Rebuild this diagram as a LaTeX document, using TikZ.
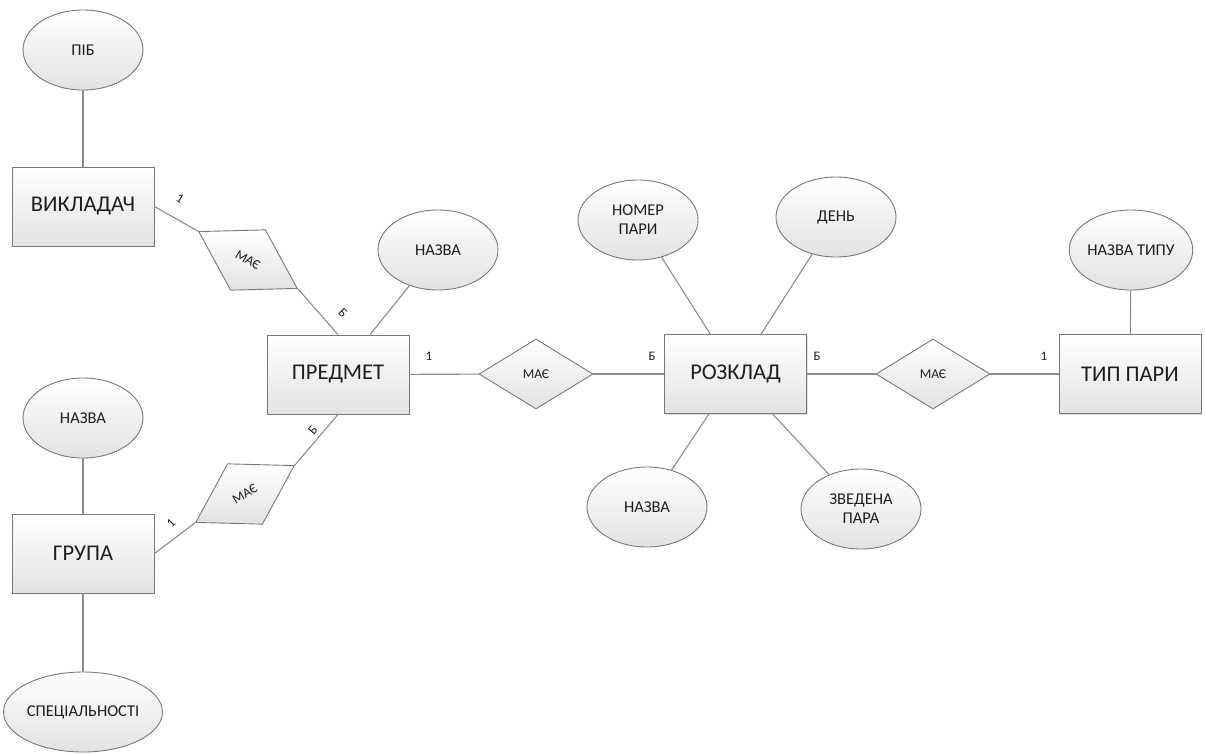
\documentclass[tikz,border=0pt]{standalone}
\usepackage{fontspec}
\setmainfont{Carlito}
\usetikzlibrary{shapes.geometric,shadows}
\definecolor{edgegray}{RGB}{120,120,120}
\definecolor{linegray}{RGB}{140,140,140}
\definecolor{fillgray}{RGB}{226,226,226}
\definecolor{inkcol}{RGB}{30,30,30}
\begin{document}
\begin{tikzpicture}[x=1pt,y=-1pt,
  shapebase/.style={draw=edgegray, line width=0.9pt, text=inkcol, inner sep=0pt,
    top color=white, bottom color=fillgray, align=center},
  entity/.style={shapebase, rectangle, minimum width=142pt, minimum height=79pt,
    font=\fontsize{22.5}{26}\selectfont,
    drop shadow={shadow xshift=1.2pt, shadow yshift=-1.2pt, opacity=0.25, fill=gray}},
  attr/.style={shapebase, ellipse, minimum width=120pt, minimum height=80pt,
    font=\fontsize{16.5}{19}\selectfont},
  rel/.style={shapebase, diamond, minimum width=114pt, minimum height=70pt,
    font=\fontsize{13.5}{15}\selectfont},
  card/.style={text=inkcol, inner sep=0pt, font=\fontsize{13}{14}\selectfont},
  conn/.style={draw=linegray, line width=1.1pt}]
\useasboundingbox (0,0) rectangle (1205,753);

% entities
\node[entity] (vyk) at (83,206.5) {ВИКЛАДАЧ};
\node[entity] (predmet) at (338,374.5) {ПРЕДМЕТ};
\node[entity] (grupa) at (83,553.5) {ГРУПА};
\node[entity] (rozklad) at (735.5,374) {РОЗКЛАД};
\node[entity] (typ) at (1130,374) {ТИП ПАРИ};

% attributes
\node[attr] (pib) at (83,50) {ПІБ};
\node[attr] (nazva1) at (438,250) {НАЗВА};
\node[attr] (nazva2) at (83,418) {НАЗВА};
\node[attr, minimum width=141pt] (spec) at (83,712) {СПЕЦІАЛЬНОСТІ};
\node[attr] (nomer) at (638,220) {НОМЕР\\ПАРИ};
\node[attr] (den) at (836,217) {ДЕНЬ};
\node[attr] (nazva3) at (647,507) {НАЗВА};
\node[attr] (zved) at (861,509) {ЗВЕДЕНА\\ПАРА};
\node[attr] (nazvatypu) at (1131,250) {НАЗВА ТИПУ};

% relationships
\node[rel, rotate=-30] (r1) at (248,260) {МАЄ};
\node[rel, rotate=30] (r2) at (245,494) {МАЄ};
\node[rel] (r3) at (536,374) {МАЄ};
\node[rel] (r4) at (933,374) {МАЄ};

% attribute links
\draw[conn] (pib) -- (vyk);
\draw[conn] (nazva1) -- (predmet);
\draw[conn] (nazva2) -- (grupa);
\draw[conn] (grupa) -- (spec);
\draw[conn] (nomer) -- (rozklad);
\draw[conn] (den) -- (rozklad);
\draw[conn] (nazva3) -- (rozklad);
\draw[conn] (zved) -- (rozklad);
\draw[conn] (nazvatypu) -- (typ);

% relationship links
\draw[conn] (vyk.east) -- (r1.west);
\draw[conn] (r1.east) -- (predmet.north);
\draw[conn] (grupa.east) -- (r2.west);
\draw[conn] (r2.east) -- (predmet.south);
\draw[conn] (predmet) -- (r3);
\draw[conn] (r3) -- (rozklad);
\draw[conn] (rozklad) -- (r4);
\draw[conn] (r4) -- (typ);

% cardinalities
\node[card, rotate=-30] (c1) at (180,199) {1};
\node[card, rotate=-45] (c2) at (343,313) {Б};
\node[card, rotate=45] (c3) at (171,523) {1};
\node[card, rotate=50] (c4) at (313,430) {Б};
\node[card] (c5) at (429,356) {1};
\node[card] (c6) at (652,356) {Б};
\node[card] (c7) at (817,356) {Б};
\node[card] (c8) at (1044,356) {1};
\end{tikzpicture}
\end{document}
